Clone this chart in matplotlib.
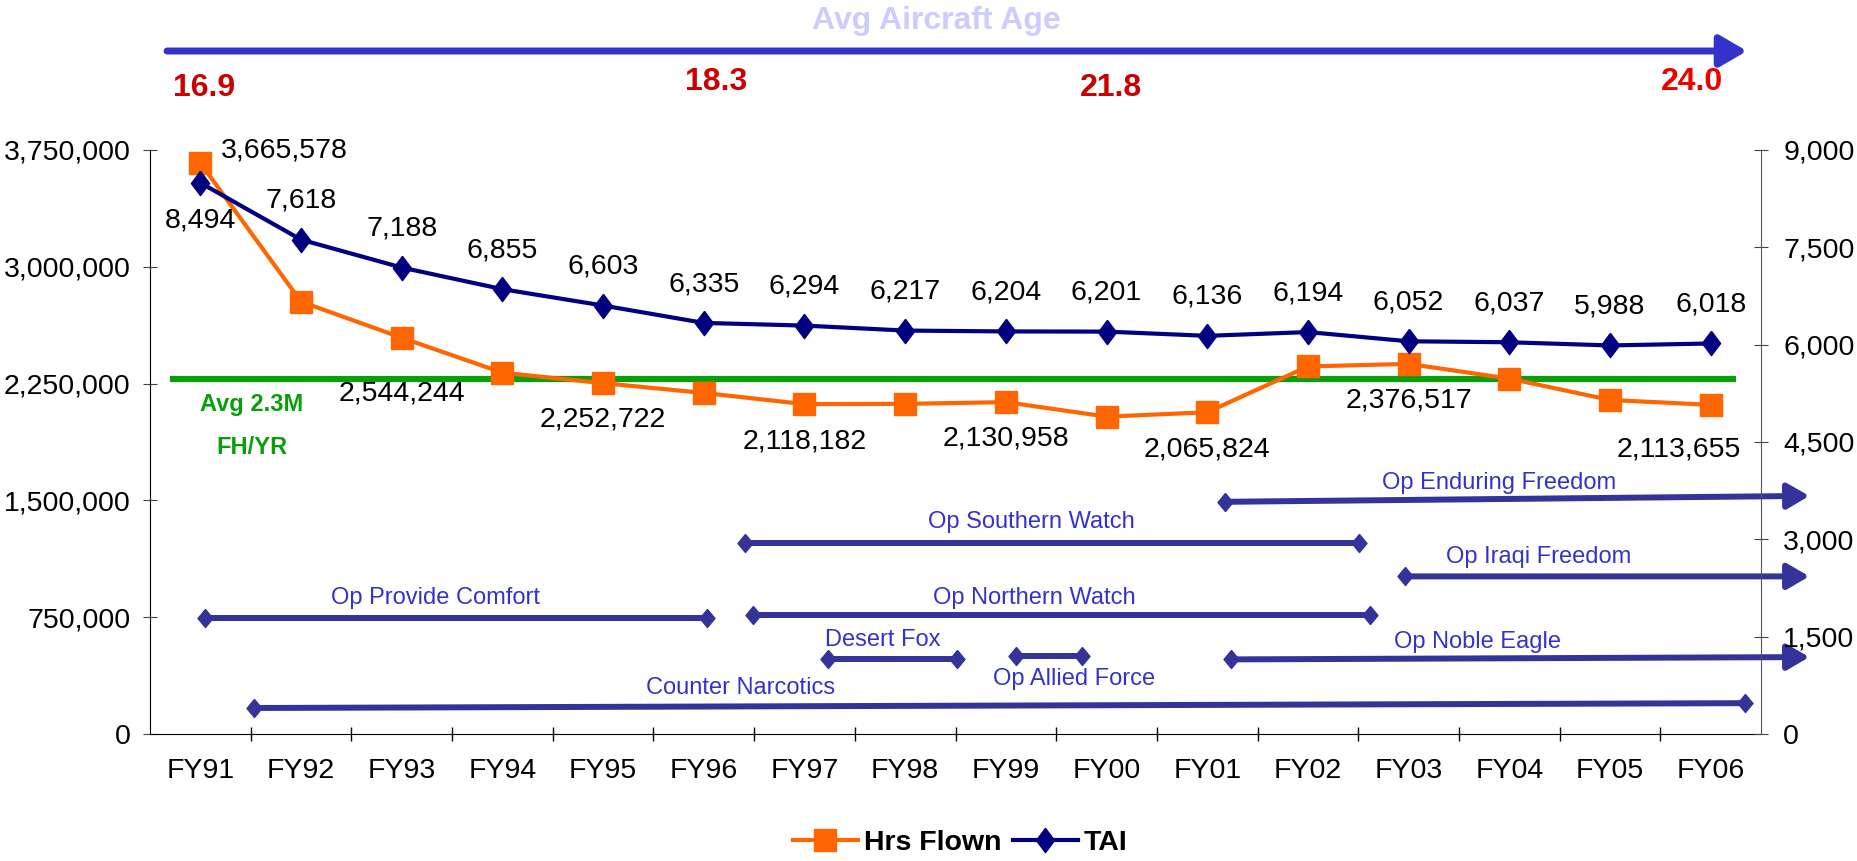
import numpy as np
import matplotlib.pyplot as plt
from matplotlib.ticker import FuncFormatter, FixedLocator
from matplotlib.lines import Line2D
from matplotlib.patches import FancyArrowPatch
from matplotlib.transforms import blended_transform_factory

plt.rcParams['font.family'] = ['Liberation Sans', 'DejaVu Sans']

# data
years = ['FY91', 'FY92', 'FY93', 'FY94', 'FY95', 'FY96', 'FY97', 'FY98',
         'FY99', 'FY00', 'FY01', 'FY02', 'FY03', 'FY04', 'FY05', 'FY06']
hrs_flown = [3665578, 2776000, 2544244, 2320000, 2252722, 2190000, 2118182, 2120000,
             2130958, 2038000, 2065824, 2360000, 2376517, 2282000, 2145000, 2113655]
hrs_shown = [1, 0, 1, 0, 1, 0, 1, 0, 1, 0, 1, 0, 1, 0, 0, 1]
tai = [8494, 7618, 7188, 6855, 6603, 6335, 6294, 6217,
       6204, 6201, 6136, 6194, 6052, 6037, 5988, 6018]
avg_hrs = 2280000

ages = ['16.9', '18.3', '21.8', '24.0']

ops_names = ['Op Provide Comfort', 'Op Southern Watch', 'Op Northern Watch', 'Desert Fox',
             'Op Allied Force', 'Counter Narcotics', 'Op Enduring Freedom',
             'Op Iraqi Freedom', 'Op Noble Eagle']
ops_start = [0.05, 5.41, 5.49, 6.23, 8.10, 0.535, 10.18, 11.96, 10.24]
ops_end = [5.03, 11.51, 11.62, 7.51, 8.76, 15.34, 15.98, 15.98, 15.98]
ops_level = [745000, 1225000, 761000, 479000, 502000, 167000, 1491000, 1012000, 479000]
ops_level_end = [745000, 1225000, 761000, 479000, 502000, 198000, 1529000, 1012000, 494000]
ops_ongoing = [0, 0, 0, 0, 0, 0, 1, 1, 1]

# layout
hrs_dx = [15, 0, 0, 0, 0, 0, 0, 0, 0, 0, 0, 0, 0, 0, 0, -23]
hrs_dy = [9, 0, -40, 0, -26, 0, -27, 0, -26, 0, -27, 0, -26, 0, 0, -32]
tai_dy = [-27] + [28] * 15
age_x = [0.04, 5.12, 9.04, 14.81]
age_y = [0.898, 0.905, 0.898, 0.905]
age_col = ['#cc0000', '#cc0000', '#cc0000', '#ee0000']
ops_lab_x = [2.34, 8.25, 8.28, 6.78, 8.68, 5.37, 12.9, 13.29, 12.68]
ops_lab_y = [874700, 1361600, 874700, 601000, 350000, 296600, 1612600, 1133400, 593300]

FS = 20.5
ORANGE = '#ff6600'
NAVY = '#000080'
OPCOL = '#333399'
OPTXT = '#3333cc'
GREEN = '#0a9e0a'
tall_diamond = [(0, 1), (0.75, 0), (0, -1), (-0.75, 0), (0, 1)]
op_diamond = [(0, 1), (0.83, 0), (0, -1), (-0.83, 0), (0, 1)]

fig = plt.figure(figsize=(18.57, 8.61), dpi=100)
ax = fig.add_axes([0.0808, 0.1475, 0.8675, 0.6783])
ax2 = ax.twinx()

x = np.arange(len(years))

ax.set_xlim(-0.5, 15.5)
ax.set_ylim(0, 3750000)
ax2.set_ylim(0, 9000)
ax.set_yticks(np.arange(0, 3750001, 750000))
ax2.set_yticks(np.arange(0, 9001, 1500))
fmt = FuncFormatter(lambda v, _: f'{v:,.0f}')
ax.yaxis.set_major_formatter(fmt)
ax2.yaxis.set_major_formatter(fmt)

ax.set_xticks(x)
ax.set_xticklabels(years)
ax.xaxis.set_minor_locator(FixedLocator(np.arange(0.5, 15.5, 1)))
ax.tick_params(axis='x', which='major', length=0, pad=17, labelsize=FS)
ax.tick_params(axis='x', which='minor', length=10, direction='inout', width=1)
ax.tick_params(axis='y', length=10, direction='inout', pad=9, labelsize=FS, color='#444444')
ax2.tick_params(axis='y', length=10, direction='inout', pad=11, labelsize=FS, color='#444444')

for a in (ax, ax2):
    a.spines['top'].set_visible(False)
ax2.spines['left'].set_visible(False)
ax2.spines['bottom'].set_visible(False)
ax2.spines['right'].set_color('#555555')
ax.spines['right'].set_visible(False)

# average line
ax.hlines(avg_hrs, -0.3, 15.25, color=GREEN, lw=4.5, zorder=2)
ax.text(0.51, 2114600, 'Avg 2.3M', color=GREEN, fontsize=17, fontweight='bold',
        ha='center', va='center')
ax.text(0.51, 1840700, 'FH/YR', color=GREEN, fontsize=17, fontweight='bold',
        ha='center', va='center')

# hours flown
ax.plot(x, hrs_flown, color=ORANGE, lw=3.0, marker='s', ms=15.5, zorder=4)
for i, v in enumerate(hrs_flown):
    if hrs_shown[i]:
        ax.annotate(f'{v:,}', (x[i], v), xytext=(hrs_dx[i], hrs_dy[i]),
                    textcoords='offset points', ha='left' if hrs_dx[i] > 0 else 'center',
                    va='center', fontsize=FS, zorder=6)

# TAI
ax2.plot(x, tai, color=NAVY, lw=3.0, marker=tall_diamond, ms=17.5, zorder=4)
for i, v in enumerate(tai):
    ax2.annotate(f'{v:,}', (x[i], v), xytext=(0, tai_dy[i]), textcoords='offset points',
                 ha='center', va='center', fontsize=FS, zorder=6)

# operations
for i, name in enumerate(ops_names):
    x0, x1 = ops_start[i], ops_end[i]
    y0, y1 = ops_level[i], ops_level_end[i]
    if ops_ongoing[i]:
        ax.annotate('', xy=(x1, y1), xytext=(x0, y0), annotation_clip=False,
                    arrowprops=dict(arrowstyle='-|>,head_length=0.55,head_width=0.32',
                                    lw=4.3, color=OPCOL, shrinkA=0, shrinkB=0,
                                    mutation_scale=24))
        ax.plot([x0], [y0], marker=op_diamond, ms=13, color=OPCOL, clip_on=False, zorder=3)
    else:
        ax.plot([x0, x1], [y0, y1], color=OPCOL, lw=4.3, marker=op_diamond, ms=13,
                clip_on=False, zorder=3)
    ax.text(ops_lab_x[i], ops_lab_y[i], name, color=OPTXT, fontsize=17,
            ha='center', va='center')

# average aircraft age arrow
fig.patches.append(FancyArrowPatch(
    (167 / 1857, 1 - 51 / 861), (1747 / 1857, 1 - 51 / 861), transform=fig.transFigure,
    arrowstyle='-|>,head_length=0.55,head_width=0.32', lw=5, color='#3333cc',
    mutation_scale=30, shrinkA=0, shrinkB=0))
fig.text(936 / 1857, 1 - 21 / 861, 'Avg Aircraft Age', color='#ccccff', fontsize=23,
         fontweight='bold', ha='center', va='center')
age_tr = blended_transform_factory(ax.transData, fig.transFigure)
for i, a in enumerate(ages):
    ax.text(age_x[i], age_y[i], a, transform=age_tr, color=age_col[i],
            fontsize=23, fontweight='bold', ha='center', va='center', clip_on=False)

handles = [Line2D([], [], color=ORANGE, lw=3.0, marker='s', ms=15.5),
           Line2D([], [], color=NAVY, lw=3.0, marker=tall_diamond, ms=17.5)]
fig.legend(handles, ['Hrs Flown', 'TAI'], loc='center', bbox_to_anchor=(0.517, 0.021),
           ncol=2, frameon=False, prop={'size': FS, 'weight': 'bold'},
           handlelength=2.3, columnspacing=0.4, handletextpad=0.2)

fig.savefig('out.png', dpi=100)
